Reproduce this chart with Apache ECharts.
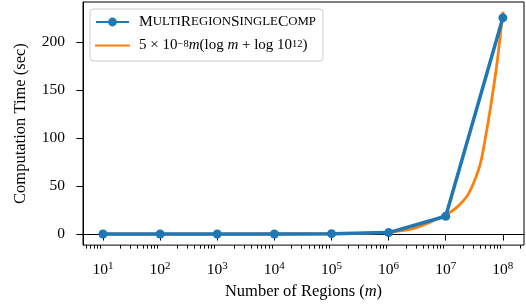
<!DOCTYPE html>
<html>
<head>
<meta charset="utf-8">
<title>Computation time vs regions</title>
<script src="https://cdn.jsdelivr.net/npm/echarts@6/dist/echarts.min.js"></script>
<style>
  html, body { margin: 0; padding: 0; background: #fff; }
  #chart { width: 526px; height: 305px; }
</style>
</head>
<body>
<div id="chart"></div>
<script>
// data
var regions = [1e1, 1e2, 1e3, 1e4, 1e5, 1e6, 1e7, 1e8];
var multiTime = [0.002, 0.01, 0.03, 0.1, 0.4, 1.5, 18.5, 225];

var boundM = [1e1, 1e2, 1e3, 1e4, 1e5, 1e6, 3.16e6, 1e7, 1.58e7, 2.51e7, 3.98e7, 5.01e7, 6.31e7, 7.94e7, 1e8];
var boundTime = [0, 0, 0, 0.03, 0.2, 2, 7, 20, 28, 42, 72, 102, 138, 179, 230];

var yTicks = [0, 50, 100, 150, 200];
var xTicks = [1e1, 1e2, 1e3, 1e4, 1e5, 1e6, 1e7, 1e8];
var xMinorTicks = [];
for (var k = 0; k <= 8; k++) {
  for (var d = 2; d <= 9; d++) {
    var v = d * Math.pow(10, k);
    if (v > 4.5 && v < 2.2e8) xMinorTicks.push(v);
  }
}

var serif = 'Liberation Serif';
var xMin = Math.pow(10, 0.65), xMax = Math.pow(10, 8.37);

function zip(xs, ys) {
  var out = [];
  for (var i = 0; i < xs.length; i++) out.push([xs[i], ys[i]]);
  return out;
}

var chart = echarts.init(document.getElementById('chart'));
var option = {
  animation: false,
  textStyle: { fontFamily: serif, color: '#000' },
  grid: {
    left: 83, right: 2, top: 2, bottom: 58,
    show: true, borderColor: '#000', borderWidth: 1
  },
  legend: {
    orient: 'vertical',
    left: 90, top: 9,
    padding: [5, 7, 8, 5],
    itemWidth: 33, itemHeight: 11, itemGap: 8,
    borderColor: '#cccccc', borderWidth: 1, borderRadius: 3,
    backgroundColor: 'rgba(255,255,255,0.8)',
    data: [{ name: 'multi' }, { name: 'bound', itemStyle: { opacity: 0 } }],
    formatter: function (name) {
      if (name === 'multi') {
        return '{c|M}{s|ULTI}{c|R}{s|EGION}{c|S}{s|INGLE}{c|C}{s|OMP}';
      }
      return '{n|5 × 10}{p|−8}{i|m}{n|(log }{i|m}{n| + log 10}{p|12}{n|)}';
    },
    textStyle: {
      fontFamily: serif, color: '#000', padding: [0, 0, 0, 5],
      rich: {
        c: { fontFamily: serif, fontSize: 15.5, lineHeight: 14 },
        s: { fontFamily: serif, fontSize: 12.8, lineHeight: 14 },
        n: { fontFamily: serif, fontSize: 15, lineHeight: 14 },
        i: { fontFamily: serif, fontSize: 15, lineHeight: 14, fontStyle: 'italic' },
        p: { fontFamily: serif, fontSize: 10.5, lineHeight: 7, verticalAlign: 'top' }
      }
    }
  },
  xAxis: [{
    type: 'log',
    logBase: 10,
    min: xMin, max: xMax,
    name: '{n|Number of Regions (}{i|m}{n|)}',
    nameLocation: 'middle',
    nameGap: 36,
    nameTextStyle: {
      rich: {
        n: { fontFamily: serif, fontSize: 16.5, color: '#000' },
        i: { fontFamily: serif, fontSize: 16.5, color: '#000', fontStyle: 'italic' }
      }
    },
    axisLine: { show: true, lineStyle: { color: '#000', width: 1 } },
    axisTick: { show: true, length: 6.5, lineStyle: { color: '#000', width: 1 }, customValues: xTicks },
    splitLine: { show: false },
    axisLabel: {
      customValues: xTicks,
      margin: 16,
      formatter: function (val) {
        return '{b|10}{p|' + Math.round(Math.log10(val)) + '}';
      },
      rich: {
        b: { fontFamily: serif, fontSize: 15.5, lineHeight: 18, color: '#000' },
        p: { fontFamily: serif, fontSize: 11, lineHeight: 11, color: '#000', verticalAlign: 'top' }
      }
    }
  }, {
    type: 'log',
    logBase: 10,
    min: xMin, max: xMax,
    position: 'bottom',
    axisLine: { show: false },
    axisTick: { show: true, length: 3.5, lineStyle: { color: '#000', width: 1 }, customValues: xMinorTicks },
    axisLabel: { show: false },
    splitLine: { show: false }
  }],
  yAxis: {
    type: 'value',
    min: -11.5, max: 241.5,
    name: 'Computation Time (sec)',
    nameLocation: 'middle',
    nameGap: 54,
    nameTextStyle: { fontFamily: serif, fontSize: 16.5, color: '#000' },
    axisLine: { show: true, lineStyle: { color: '#000', width: 1 } },
    axisTick: { show: true, length: 6.5, lineStyle: { color: '#000', width: 1 }, customValues: yTicks },
    splitLine: { show: false },
    axisLabel: {
      customValues: yTicks,
      margin: 18,
      fontFamily: serif, fontSize: 15.5, color: '#000'
    }
  },
  series: [{
    name: 'multi',
    type: 'line',
    xAxisIndex: 0,
    data: zip(regions, multiTime),
    symbol: 'circle',
    symbolSize: 9,
    z: 3,
    lineStyle: { color: '#1f77b4', width: 3.5 },
    itemStyle: { color: '#1f77b4' }
  }, {
    name: 'bound',
    type: 'line',
    xAxisIndex: 0,
    data: zip(boundM, boundTime),
    showSymbol: false,
    symbol: 'none',
    smooth: 0.25,
    z: 2,
    lineStyle: { color: '#ff7f0e', width: 2.8, cap: 'square' },
    itemStyle: { color: '#ff7f0e' }
  }]
};
chart.setOption(option);
</script>
</body>
</html>
